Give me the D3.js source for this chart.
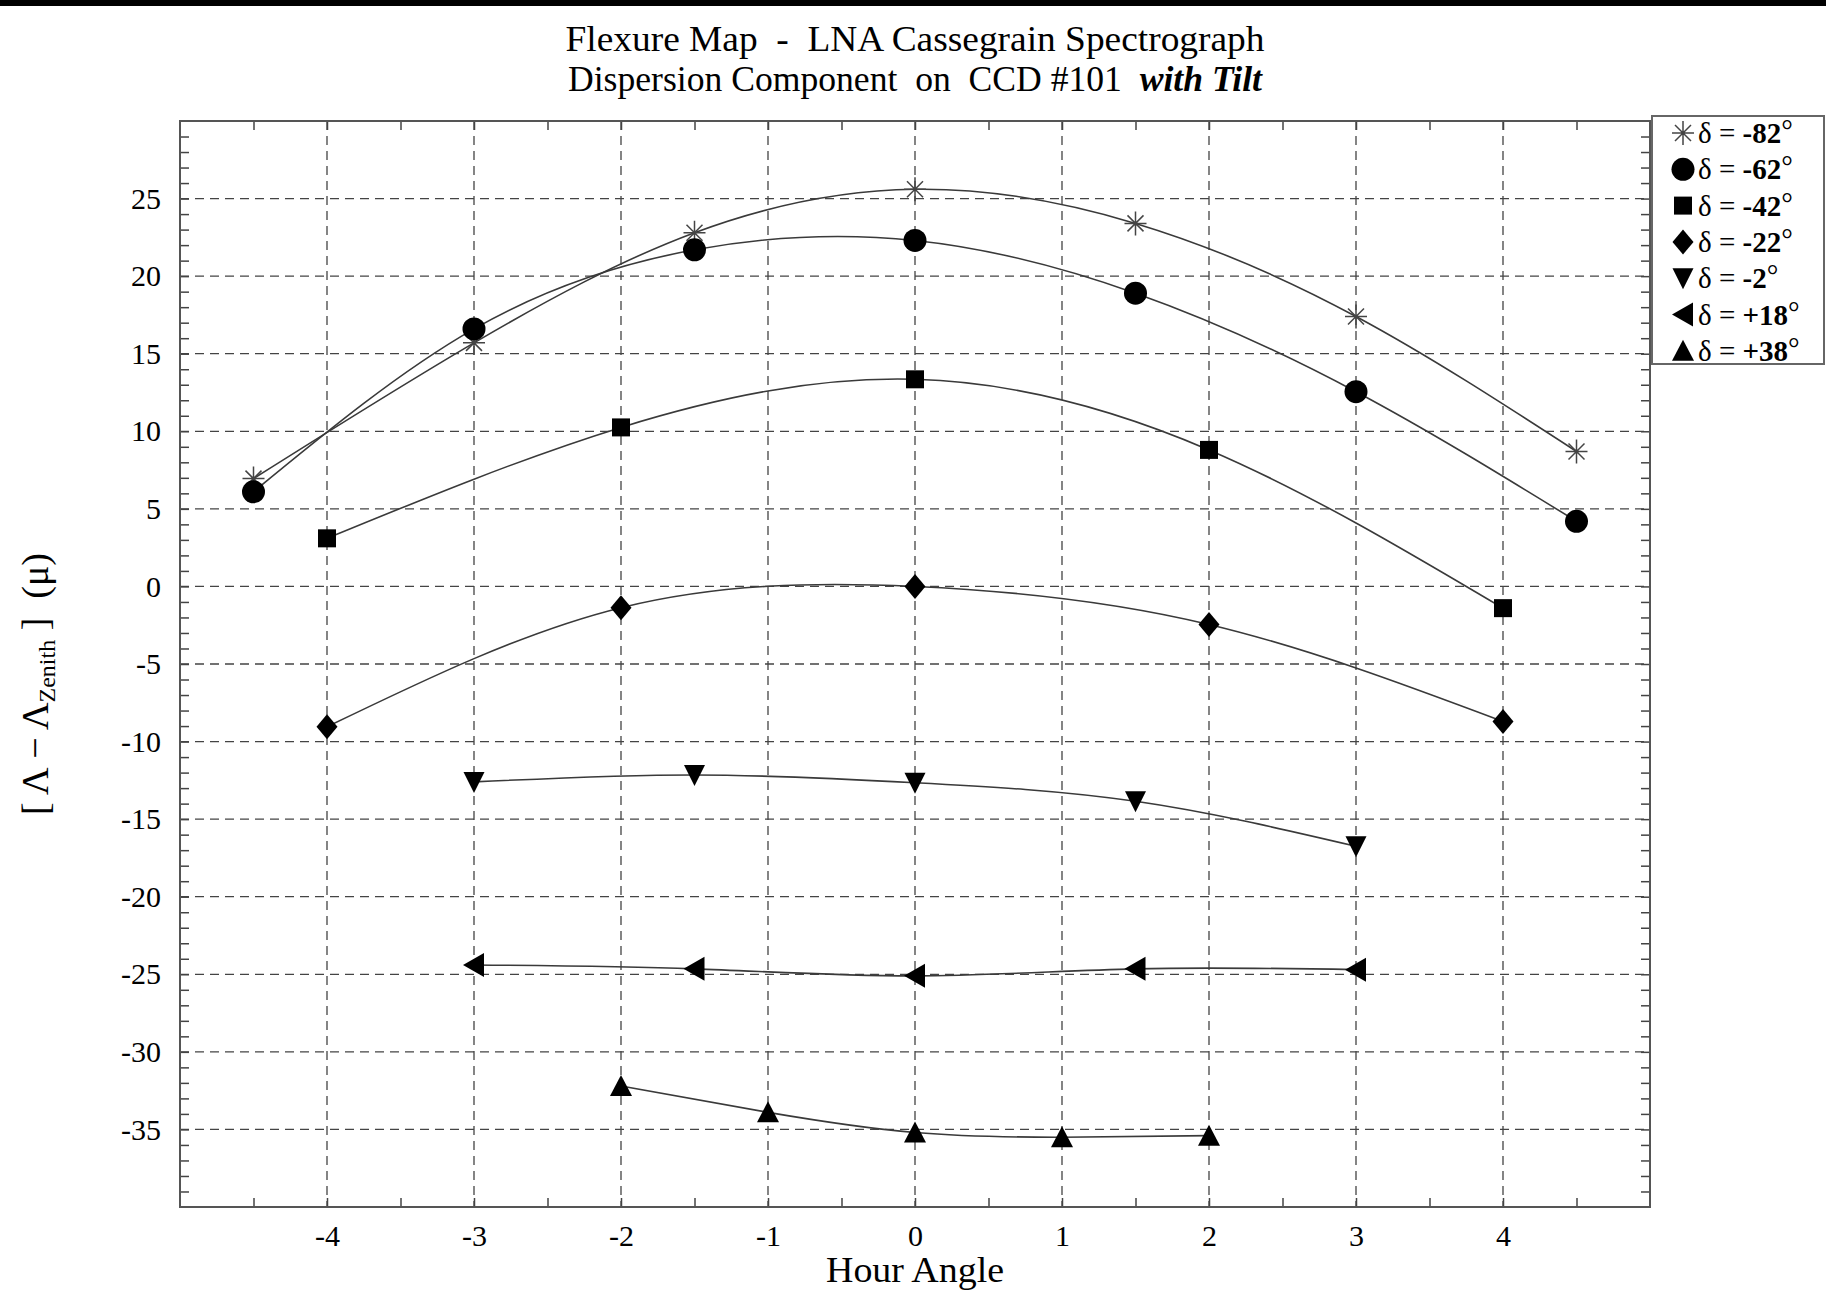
<!DOCTYPE html>
<html>
<head>
<meta charset="utf-8">
<script src="https://cdn.jsdelivr.net/npm/d3@7"></script>
<style>
  body { margin: 0; background: #fff; }
  svg text { font-family: "Liberation Serif", "Times New Roman", serif; fill: #000; white-space: pre; }
</style>
</head>
<body>
<div class="flex-holder"></div>
<script>
// Hour angle / dispersion offset for each declination
const ha_m82 = [-4.5, -3, -1.5, 0, 1.5, 3, 4.5];
const val_m82 = [6.95, 15.7, 22.8, 25.6, 23.4, 17.4, 8.7];
const ha_m62 = [-4.5, -3, -1.5, 0, 1.5, 3, 4.5];
const val_m62 = [6.1, 16.6, 21.7, 22.3, 18.9, 12.55, 4.2];
const ha_m42 = [-4, -2, 0, 2, 4];
const val_m42 = [3.1, 10.25, 13.35, 8.8, -1.4];
const ha_m22 = [-4, -2, 0, 2, 4];
const val_m22 = [-9.05, -1.37, 0, -2.45, -8.7];
const ha_m2 = [-3, -1.5, 0, 1.5, 3];
const val_m2 = [-12.6, -12.15, -12.65, -13.85, -16.75];
const ha_p18 = [-3, -1.5, 0, 1.5, 3];
const val_p18 = [-24.4, -24.65, -25.1, -24.65, -24.7];
const ha_p38 = [-2, -1, 0, 1, 2];
const val_p38 = [-32.2, -33.9, -35.2, -35.5, -35.4];

const decl_labels = ['-82', '-62', '-42', '-22', '-2', '+18', '+38'];
const decl_symbols = ['asterisk', 'circle', 'square', 'diamond', 'down', 'left', 'up'];

const x_tick_labels = [-4, -3, -2, -1, 0, 1, 2, 3, 4];
const y_tick_labels = [-35, -30, -25, -20, -15, -10, -5, 0, 5, 10, 15, 20, 25];

const flex_series = [
  { ha: ha_m82, val: val_m82 },
  { ha: ha_m62, val: val_m62 },
  { ha: ha_m42, val: val_m42 },
  { ha: ha_m22, val: val_m22 },
  { ha: ha_m2, val: val_m2 },
  { ha: ha_p18, val: val_p18 },
  { ha: ha_p38, val: val_p38 },
].map((s, i) => ({
  label: decl_labels[i],
  symbol: decl_symbols[i],
  points: s.ha.map((h, j) => ({ ha: h, v: s.val[j] }))
}));

// Dimensions
const flex_width = 1826;
const flex_height = 1298;
const plot_left = 180, plot_right = 1650, plot_top = 121, plot_bottom = 1207;

const flex_svg = d3.select('.flex-holder').append('svg')
  .attr('width', flex_width)
  .attr('height', flex_height);

flex_svg.append('rect')
  .attr('width', flex_width).attr('height', flex_height).attr('fill', '#fff');
flex_svg.append('rect')
  .attr('width', flex_width).attr('height', 6).attr('fill', '#000');

// Scales
const flex_x = d3.scaleLinear().domain([-5, 5]).range([plot_left, plot_right]);
const flex_y = d3.scaleLinear().domain([-40, 30]).range([plot_bottom, plot_top]);

// Grid
const grid = flex_svg.append('g')
  .attr('stroke', '#444')
  .attr('stroke-width', 1.3)
  .attr('stroke-dasharray', '9,6');

grid.selectAll('.vgrid').data(x_tick_labels).enter().append('line')
  .attr('x1', d => flex_x(d)).attr('x2', d => flex_x(d))
  .attr('y1', plot_top).attr('y2', plot_bottom);

grid.selectAll('.hgrid').data(y_tick_labels).enter().append('line')
  .attr('y1', d => flex_y(d)).attr('y2', d => flex_y(d))
  .attr('x1', plot_left).attr('x2', plot_right);

// Axes (ticks inward on all four sides)
const x_minor = d3.range(-4.5, 5, 0.5);
const y_minor = d3.range(-39, 30, 1);

function styleAxis(g) {
  g.select('.domain').remove();
  g.selectAll('.tick line').attr('stroke', '#444').attr('stroke-width', 1.5);
  g.selectAll('text').style('font-size', '30px');
}

flex_svg.append('g')
  .attr('transform', 'translate(' + plot_left + ',0)')
  .call(d3.axisLeft(flex_y).tickValues(y_minor).tickSize(-9).tickPadding(19)
    .tickFormat(d => y_tick_labels.includes(d) ? String(d) : ''))
  .call(styleAxis);

flex_svg.append('g')
  .attr('transform', 'translate(' + plot_right + ',0)')
  .call(d3.axisRight(flex_y).tickValues(y_minor).tickSize(-9).tickFormat(''))
  .call(styleAxis);

flex_svg.append('g')
  .attr('transform', 'translate(0,' + plot_bottom + ')')
  .call(d3.axisBottom(flex_x).tickValues(x_minor).tickSize(-9).tickPadding(18)
    .tickFormat(d => x_tick_labels.includes(d) ? String(d) : ''))
  .call(styleAxis);

flex_svg.append('g')
  .attr('transform', 'translate(0,' + plot_top + ')')
  .call(d3.axisTop(flex_x).tickValues(x_minor).tickSize(-9).tickFormat(''))
  .call(styleAxis);

// Frame
flex_svg.append('rect')
  .attr('x', plot_left).attr('y', plot_top)
  .attr('width', plot_right - plot_left).attr('height', plot_bottom - plot_top)
  .attr('fill', 'none').attr('stroke', '#555').attr('stroke-width', 2);

// Marker shapes (relative to the point)
function markerPath(type) {
  switch (type) {
    case 'circle': return d3.symbol(d3.symbolCircle, Math.PI * 11.5 * 11.5)();
    case 'square': return 'M-9,-9H9V9H-9Z';
    case 'diamond': return 'M0,-12.5L10.5,0L0,12.5L-10.5,0Z';
    case 'down': return 'M-10.5,-10L10.5,-10L0,11Z';
    case 'left': return 'M10,-12L10,12L-11,0Z';
    case 'up': return 'M-11,10L11,10L0,-11Z';
    case 'asterisk': return 'M-11,0H11M0,-12V12M-8,-8L8,8M-8,8L8,-8';
  }
}

function drawMarker(sel, type) {
  const p = sel.append('path').attr('d', markerPath(type));
  if (type === 'asterisk') {
    p.attr('fill', 'none').attr('stroke', '#444').attr('stroke-width', 1.5);
  } else {
    p.attr('fill', '#000');
  }
}

// Curves
const flex_line = d3.line()
  .x(d => flex_x(d.ha))
  .y(d => flex_y(d.v))
  .curve(d3.curveNatural);

flex_series.forEach(s => {
  flex_svg.append('path')
    .datum(s.points)
    .attr('fill', 'none')
    .attr('stroke', '#3a3a3a')
    .attr('stroke-width', 1.6)
    .attr('d', flex_line);
});

flex_series.forEach(s => {
  s.points.forEach(p => {
    const g = flex_svg.append('g')
      .attr('transform', 'translate(' + flex_x(p.ha) + ',' + flex_y(p.v) + ')');
    drawMarker(g, s.symbol);
  });
});

// Legend
const flex_legend = flex_svg.append('g');
flex_legend.append('rect')
  .attr('x', 1652).attr('y', 116).attr('width', 172).attr('height', 248)
  .attr('fill', '#fff').attr('stroke', '#666').attr('stroke-width', 2);

flex_series.forEach((s, i) => {
  const ly = 133 + i * 36.3;
  const g = flex_legend.append('g').attr('transform', 'translate(1683,' + ly + ')');
  drawMarker(g, s.symbol);
  const t = flex_legend.append('text')
    .attr('x', 1698).attr('y', ly + 10)
    .style('font-size', '29px');
  t.append('tspan').text('\u03b4 = ');
  t.append('tspan').style('font-weight', 'bold').text(s.label);
  t.append('tspan').attr('dy', -3).text('\u00b0');
});

// Title
flex_svg.append('text')
  .attr('x', 915).attr('y', 51)
  .attr('text-anchor', 'middle')
  .attr('textLength', 699).attr('lengthAdjust', 'spacingAndGlyphs')
  .style('font-size', '35px')
  .text('Flexure Map  -  LNA Cassegrain Spectrograph');

const title2 = flex_svg.append('text')
  .attr('x', 915).attr('y', 91)
  .attr('text-anchor', 'middle')
  .attr('textLength', 694).attr('lengthAdjust', 'spacingAndGlyphs')
  .style('font-size', '35px');
title2.append('tspan').text('Dispersion Component  on  CCD #101  ');
title2.append('tspan').style('font-weight', 'bold').style('font-style', 'italic').text('with Tilt');

// Axis titles
flex_svg.append('text')
  .attr('x', 915).attr('y', 1282)
  .attr('text-anchor', 'middle')
  .attr('textLength', 178).attr('lengthAdjust', 'spacingAndGlyphs')
  .style('font-size', '36px')
  .text('Hour Angle');

const ylab = flex_svg.append('text')
  .attr('transform', 'translate(48,684) rotate(-90)')
  .attr('text-anchor', 'middle')
  .style('font-size', '38px');
ylab.append('tspan').text('[ \u039b \u2212 \u039b');
ylab.append('tspan').attr('dy', 7).style('font-size', '24px').text('Zenith');
ylab.append('tspan').attr('dy', -7).text(' ]  (\u03bc)');
</script>
</body>
</html>
